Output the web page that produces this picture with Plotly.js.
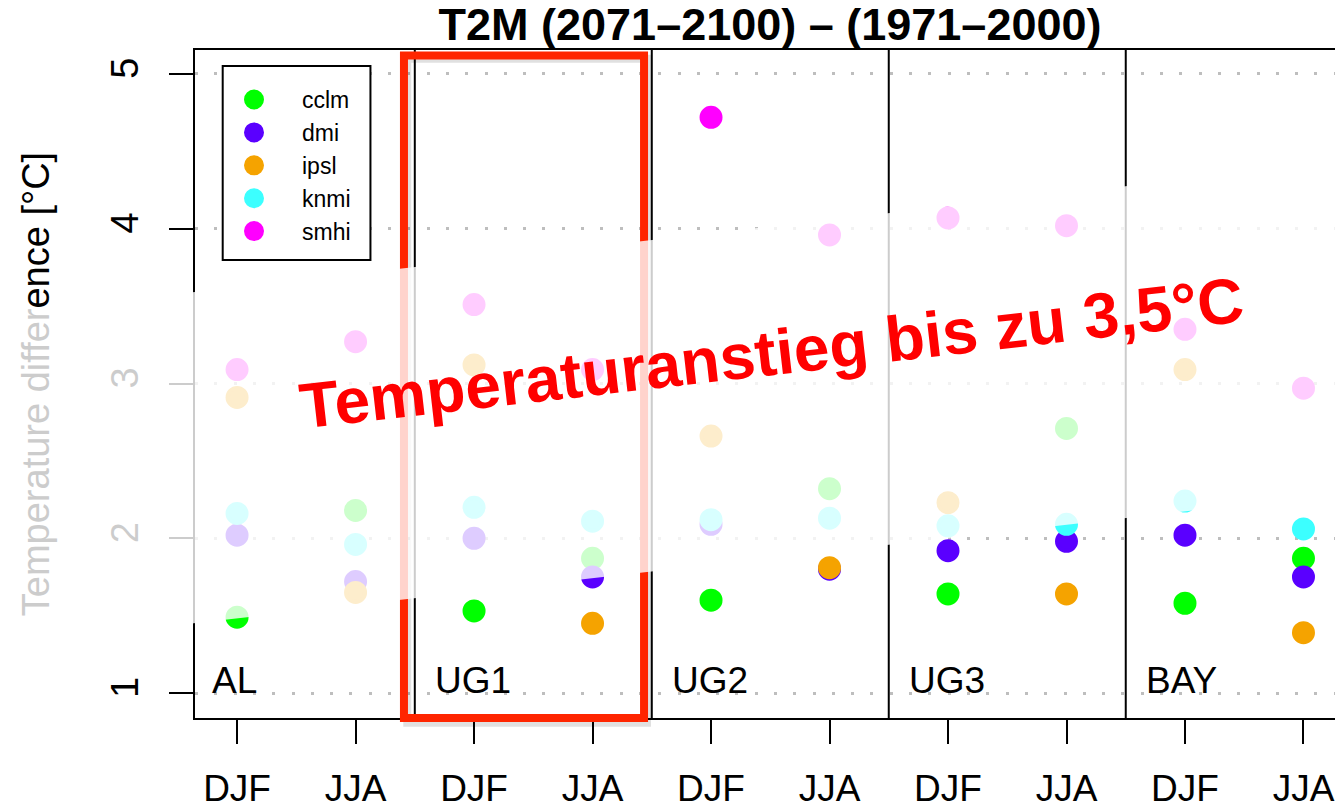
<!DOCTYPE html>
<html><head><meta charset="utf-8">
<script src="https://cdn.plot.ly/plotly-3.0.1.min.js"></script>
<style>html,body{margin:0;padding:0;background:#fff;} #chart{width:1335px;height:809px;}</style>
</head><body><div id="chart"></div>
<script>
// ---- data ----
const regions = ['AL', 'UG1', 'UG2', 'UG3', 'BAY'];
const seasons = ['DJF', 'JJA'];
const models = ['cclm', 'dmi', 'ipsl', 'knmi', 'smhi'];
// values in order AL-DJF, AL-JJA, UG1-DJF, UG1-JJA, UG2-DJF, UG2-JJA, UG3-DJF, UG3-JJA, BAY-DJF, BAY-JJA
const cclm = [1.49, 2.18, 1.53, 1.87, 1.60, 2.32, 1.64, 2.71, 1.58, 1.87];
const dmi  = [2.02, 1.72, 2.00, 1.75, 2.09, 1.80, 1.92, 1.98, 2.02, 1.75];
const ipsl = [2.91, 1.65, 3.12, 1.45, 2.66, 1.81, 2.23, 1.64, 3.09, 1.39];
const knmi = [2.16, 1.96, 2.20, 2.11, 2.12, 2.13, 2.08, 2.09, 2.24, 2.06];
const smhi = [3.09, 3.27, 3.51, 3.09, 4.72, 3.96, 4.07, 4.02, 3.35, 2.97];
const yTicks = [1, 2, 3, 4, 5];
const titleText = 'T2M (2071–2100) – (1971–2000)';
const yTitle = ['Temperature differ', 'ence [°C]'];
const highlightText = 'Temperaturanstieg bis zu 3,5°C';

// ---- styling ----
const colors = ['#00ff00', '#5a00ff', '#f5a300', '#3cffff', '#ff00ff'];
const FONT = 'Liberation Sans, Arial, Helvetica, sans-serif';
const series = [cclm, dmi, ipsl, knmi, smhi];

const xPos = [];
const tickText = [];
regions.forEach((r, ri) => seasons.forEach((s, si) => { xPos.push(ri * seasons.length + si + 1); tickText.push(s); }));

const traces = models.map((m, i) => ({
  type: 'scatter', mode: 'markers', name: m,
  x: xPos, y: series[i],
  marker: { color: colors[i], size: 19, line: { width: 4, color: colors[i] } },
  hoverinfo: 'x+y+name'
}));

const shapes = [];
// panel dividers
for (let ri = 1; ri < regions.length; ri++) {
  shapes.push({ type: 'line', layer: 'above', xref: 'x', yref: 'paper', x0: ri * 2 + 0.5, x1: ri * 2 + 0.5, y0: 0, y1: 1,
    line: { color: '#000', width: 2 } });
}
// legend box
shapes.push({ type: 'rect', layer: 'above', xref: 'paper', yref: 'paper', x0: 0.0243, x1: 0.1539, y0: 0.6856, y1: 0.9760,
  fillcolor: '#ffffff', line: { color: '#000', width: 2 } });
// highlight rectangle (shadow + red)
shapes.push({ type: 'rect', layer: 'above', xref: 'paper', yref: 'paper', x0: 0.1862, x1: 0.3965, y0: -0.0070, y1: 0.9870,
  line: { color: 'rgba(0,0,0,0.12)', width: 8 } });
shapes.push({ type: 'rect', layer: 'above', xref: 'paper', yref: 'paper', x0: 0.1833, x1: 0.3939, y0: 0.0, y1: 0.9918,
  line: { color: '#ff2500', width: 8 } });
// translucent white band
shapes.push({ type: 'path', layer: 'above', xref: 'paper', yref: 'paper',
  path: 'M -0.2237,0.5943 L 1.057,0.8428 L 1.057,0.3457 L -0.2237,0.0991 Z',
  fillcolor: 'rgba(255,255,255,0.8)', line: { width: 0 } });

const annotations = regions.map((r, ri) => ({
  text: r, xref: 'x', yref: 'y', x: ri === 0 ? 0.775 : ri * 2 + 0.65, y: 1.084,
  xanchor: 'left', yanchor: 'middle', showarrow: false,
  font: { family: FONT, size: 37, color: '#000' }
}));
annotations.push({
  text: '<b>' + highlightText + '</b>', xref: 'paper', yref: 'paper', x: 0.5060, y: 0.5470,
  xanchor: 'center', yanchor: 'middle', showarrow: false, textangle: -6.5,
  font: { family: FONT, size: 64, color: '#ff0000' }
});

const layout = {
  width: 1335, height: 809,
  margin: { l: 195, r: 0, t: 50, b: 91 },
  paper_bgcolor: '#fff', plot_bgcolor: '#fff',
  font: { family: FONT, color: '#000' },
  showlegend: true,
  legend: { x: 0.00965, y: 0.958, xanchor: 'left', yanchor: 'top', bgcolor: 'rgba(0,0,0,0)', borderwidth: 0,
    font: { family: FONT, size: 23, color: '#000' }, itemwidth: 86 },
  title: { text: '<b>' + titleText + '</b>', font: { family: FONT, size: 45, color: '#000' },
    xref: 'paper', x: 0.5044, xanchor: 'center', yref: 'container', y: 0.970, yanchor: 'middle' },
  xaxis: {
    range: [0.645, 10.266], tickmode: 'array', tickvals: xPos, ticktext: tickText,
    showgrid: false, zeroline: false, showline: true, mirror: true, linecolor: '#000', linewidth: 2,
    ticks: 'outside', ticklen: 24, tickwidth: 2, tickcolor: '#000', ticklabelstandoff: 13,
    tickfont: { family: FONT, size: 37, color: '#000' }
  },
  yaxis: {
    range: [0.8385, 5.155], tickmode: 'array', tickvals: yTicks, ticktext: yTicks.map(String),
    showgrid: true, gridcolor: '#bebebe', gridwidth: 3, griddash: '3px,16.3px',
    zeroline: false, showline: true, linecolor: '#000', linewidth: 2,
    ticks: 'outside', ticklen: 24, tickwidth: 2, tickcolor: '#000', tickangle: -90, ticklabelstandoff: 16,
    tickfont: { family: FONT, size: 38, color: '#000' },
    title: { text: '<span style="color:#cccccc">' + yTitle[0] + '</span>' + yTitle[1],
      font: { family: FONT, size: 38, color: '#000' }, standoff: 42 }
  },
  shapes: shapes,
  annotations: annotations
};

Plotly.newPlot('chart', traces, layout, { displayModeBar: false, staticPlot: true });
</script>
</body></html>
